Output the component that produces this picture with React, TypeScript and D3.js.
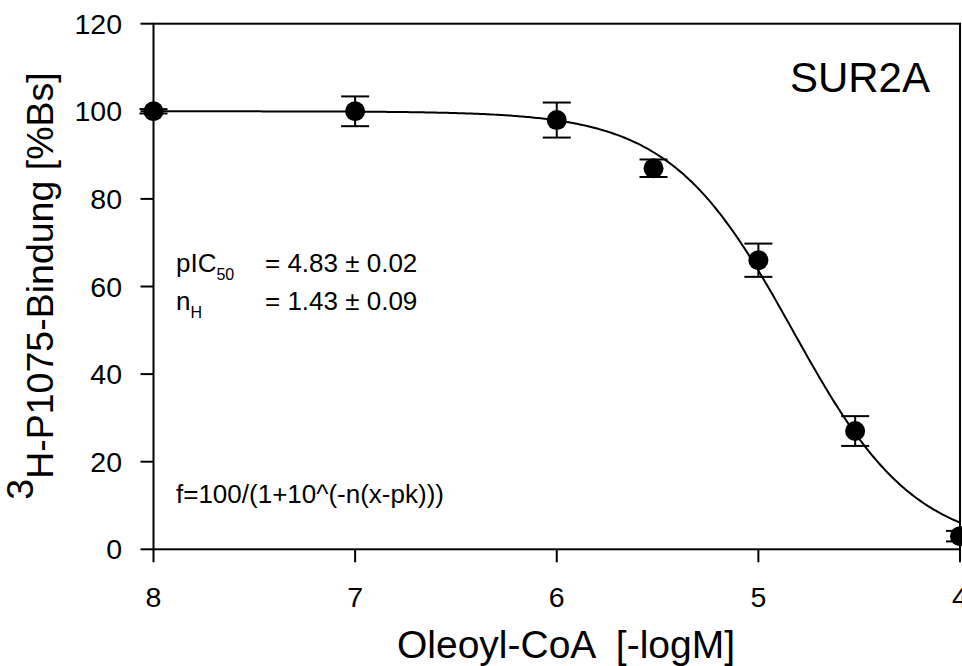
import React from "react";
import * as d3 from "d3";

const xValues = [8, 7, 6, 5.52, 5, 4.52, 4];
const yValues = [100, 100, 98, 87, 66, 27, 3];
const yErrors = [0.5, 3.4, 4, 2, 3.8, 3.4, 1.2];
const xTicks = [8, 7, 6, 5, 4];
const yTicks = [0, 20, 40, 60, 80, 100, 120];
const pIC50 = 4.83;
const nH = 1.43;

const W = 962;
const H = 666;
const left = 153.5;
const right = 960;
const top = 23.7;
const bottom = 549.3;
const font = "'Liberation Sans', Arial, sans-serif";

export default function App() {
  const x = d3.scaleLinear().domain([8, 4]).range([left, right]);
  const y = d3.scaleLinear().domain([0, 120]).range([bottom, top]);

  const fit = (v: number) => 100 / (1 + Math.pow(10, nH * (pIC50 - v)));
  const curvePts: [number, number][] = d3.range(0, 401).map((i) => {
    const v = 8 - (4 * i) / 400;
    return [v, fit(v)];
  });
  const line = d3
    .line<[number, number]>()
    .x((d) => x(d[0]))
    .y((d) => y(d[1]));

  const cap = 14;

  return (
    <svg
      width={W}
      height={H}
      style={{ position: "absolute", left: 0, top: 0, background: "#fff" }}
      fontFamily={font}
    >
      <rect x={0} y={0} width={W} height={H} fill="#fff" />
      <rect x={left} y={top} width={right - left} height={bottom - top} fill="none" stroke="#000" strokeWidth={2} />
      {yTicks.map((t) => (
        <g key={"y" + t}>
          <line x1={left - 13} x2={left} y1={y(t)} y2={y(t)} stroke="#000" strokeWidth={2} />
          <text x={122} y={y(t) + 10} fontSize={28.5} textAnchor="end">
            {t}
          </text>
        </g>
      ))}
      {xTicks.map((t) => (
        <g key={"x" + t}>
          <line x1={x(t)} x2={x(t)} y1={bottom} y2={bottom + 13} stroke="#000" strokeWidth={2} />
          <text x={x(t)} y={606.5} fontSize={28.5} textAnchor="middle">
            {t}
          </text>
        </g>
      ))}
      <path d={line(curvePts) || ""} fill="none" stroke="#000" strokeWidth={2} />
      {xValues.map((xv, i) => {
        const cx = x(xv);
        const y1 = y(yValues[i] + yErrors[i]);
        const y2 = y(yValues[i] - yErrors[i]);
        return (
          <g key={"p" + i}>
            <line x1={cx} x2={cx} y1={y1} y2={y2} stroke="#000" strokeWidth={2} />
            <line x1={cx - cap} x2={cx + cap} y1={y1} y2={y1} stroke="#000" strokeWidth={2} />
            <line x1={cx - cap} x2={cx + cap} y1={y2} y2={y2} stroke="#000" strokeWidth={2} />
            <circle cx={cx} cy={y(yValues[i])} r={10} fill="#000" />
          </g>
        );
      })}
      <text x={930} y={92} fontSize={42} textAnchor="end">
        SUR2A
      </text>
      <text x={176} y={272} fontSize={26}>
        pIC<tspan fontSize={16} dy={8}>50</tspan>
      </text>
      <text x={265} y={272} fontSize={26}>
        = 4.83 ± 0.02
      </text>
      <text x={176} y={310} fontSize={26}>
        n<tspan fontSize={16} dy={8}>H</tspan>
      </text>
      <text x={265} y={310} fontSize={26}>
        = 1.43 ± 0.09
      </text>
      <text x={176} y={503} fontSize={26}>
        f=100/(1+10^(-n(x-pk)))
      </text>
      <text x={566} y={658} fontSize={39} textAnchor="middle" style={{ whiteSpace: "pre" }}>
        {"Oleoyl-CoA  [-logM]"}
      </text>
      <text transform={`translate(53,286) rotate(-90)`} fontSize={37.5} textAnchor="middle">
        <tspan dy={-20}>3</tspan>
        <tspan dy={20}>H-P1075-Bindung [%Bs]</tspan>
      </text>
    </svg>
  );
}
